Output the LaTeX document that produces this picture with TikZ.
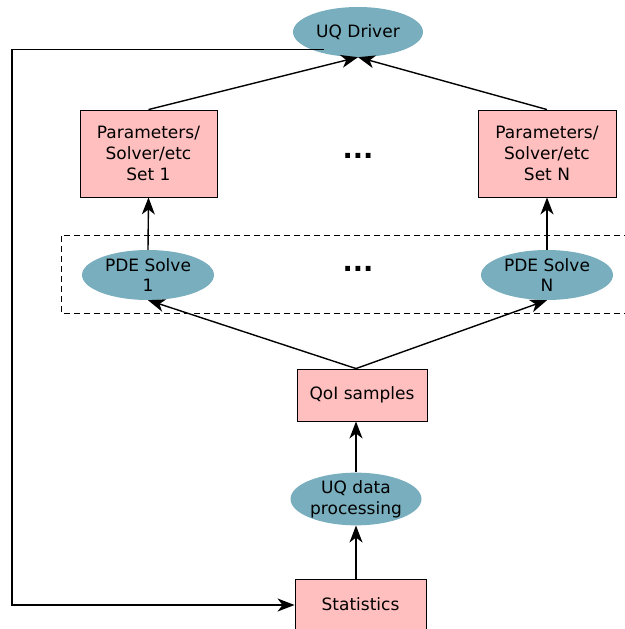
\documentclass[tikz,border=0pt]{standalone}
\usepackage{fontspec}
\setmainfont{DejaVu Sans}
\usetikzlibrary{shapes.geometric,arrows.meta}
\definecolor{boxpink}{HTML}{FFBFBF}
\definecolor{ovalteal}{HTML}{78AEBD}
\begin{document}
\begin{tikzpicture}[x=1pt,y=-1pt,
  every node/.style={font=\fontsize{17}{20.8}\selectfont, align=center, inner sep=0pt},
  stepbox/.style={draw=black, fill=boxpink, line width=0.9pt, rectangle},
  oval/.style={ellipse, fill=ovalteal, draw=none},
  dots/.style={font=\fontsize{27}{27}\selectfont\bfseries},
  link/.style={line width=1.4pt, -{Stealth[length=17pt,width=13pt,inset=5pt]}}]
\useasboundingbox (0,0) rectangle (624,629);

% dashed frame around the solver row
\draw[line width=0.9pt, dash pattern=on 6pt off 4pt] (630,235) -- (61,235) -- (61,313) -- (630,313);

% nodes
\node[oval, minimum width=130, minimum height=50] (drv) at (358,32) {UQ Driver};
\node[stepbox, minimum width=137, minimum height=87] (set1) at (148.5,153.5) {Parameters/\\Solver/etc\\Set 1};
\node[stepbox, minimum width=138, minimum height=87] (setN) at (547,153.5) {Parameters/\\Solver/etc\\Set N};
\node[dots] (dotsA) at (358,156) {...};
\node[oval, minimum width=132, minimum height=50] (pde1) at (148,275) {PDE Solve\\1};
\node[oval, minimum width=132, minimum height=50] (pdeN) at (547,275) {PDE Solve\\N};
\node[dots] (dotsB) at (358,269) {...};
\node[stepbox, minimum width=130, minimum height=52] (qoi) at (362,395) {QoI samples};
\node[oval, minimum width=131, minimum height=50] (uqp) at (356,499) {UQ data\\processing};
\node[stepbox, minimum width=131, minimum height=60, anchor=north] (stat) at (360.5,579) {\raisebox{11pt}{Statistics}};

% connectors
\draw[link] (stat.north -| uqp.south) -- (uqp.south);
\draw[link] (uqp.north) -- (uqp.north |- qoi.south);
\coordinate (qtop) at (qoi.north -| uqp.north);
\draw[link] (qtop) -- (pde1.south);
\draw[link] (qtop) -- (pdeN.south);
\draw[link] (pde1.north) -- (set1.south);
\draw[link] (pdeN.north) -- (setN.south);
\draw[link] (set1.north) -- (drv.south);
\draw[link] (setN.north) -- (drv.south);
\coordinate (fb) at (324,49.5);
\draw[link] (fb) -- (12,49.5) |- (stat.west |- 0,605);
\end{tikzpicture}
\end{document}
